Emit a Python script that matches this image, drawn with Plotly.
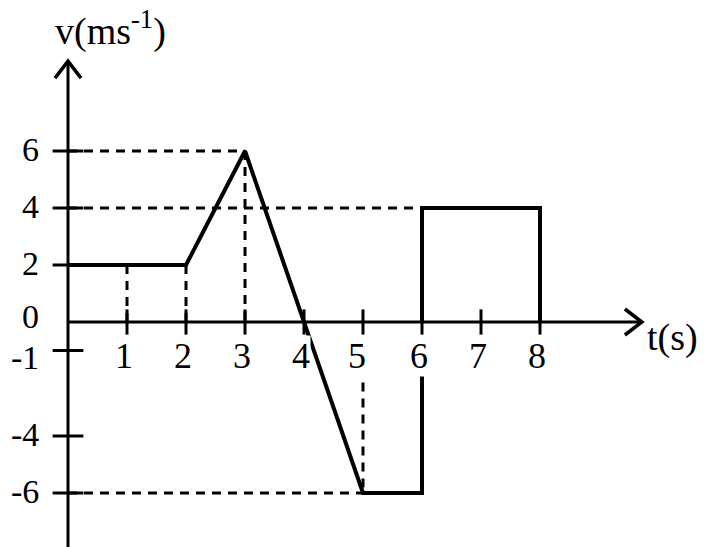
import plotly.graph_objects as go

# ---- data ----
seg1_t = [0, 2, 3, 5, 6, 6]          # first part of the v-t graph
seg1_v = [2, 2, 6, -6, -6, -1]
seg2_t = [6, 6, 8, 8]                # second part
seg2_v = [0, 4, 4, 0]

x_ticks = [1, 2, 3, 4, 5, 6, 7, 8]
x_tick_labels = ["1", "2", "3", "4", "5", "6", "7", "8"]
y_ticks = [6, 4, 2, 0, -1, -4, -6]
y_tick_labels = ["6", "4", "2", "0", "-1", "-4", "-6"]
y_tick_marks = [6, 4, 2, -1, -4, -6]

# dashed guide lines
guide_h_v = [6, 4, -6]
guide_h_from = [0, 0, 0]
guide_h_to = [3, 6, 5]
guide_v_t = [1, 2, 3, 5]
guide_v_from = [2, 2, 6, -1]
guide_v_to = [0, 0, 0, -6]

x_axis_end = 9.71
y_axis_top = 9.12
y_axis_bottom = -8.5

FONT = "Liberation Serif, Times New Roman, serif"

fig = go.Figure()

# axes lines
fig.add_trace(go.Scatter(x=[0, x_axis_end, None, 0, 0],
                         y=[0, 0, None, y_axis_bottom, y_axis_top],
                         mode="lines", line=dict(color="black", width=3),
                         hoverinfo="skip", showlegend=False))

# dashed guides
gx, gy = [], []
for v, a, b in zip(guide_h_v, guide_h_from, guide_h_to):
    gx += [a, b, None]
    gy += [v, v, None]
for t, a, b in zip(guide_v_t, guide_v_from, guide_v_to):
    gx += [t, t, None]
    gy += [a, b, None]
fig.add_trace(go.Scatter(x=gx, y=gy, mode="lines",
                         line=dict(color="black", width=3, dash="9px,7px"),
                         hoverinfo="skip", showlegend=False))

# main graph
fig.add_trace(go.Scatter(x=seg1_t + [None] + seg2_t,
                         y=seg1_v + [None] + seg2_v,
                         mode="lines", line=dict(color="black", width=4),
                         hoverinfo="skip", showlegend=False))

# tick marks crossing the axes
fig.add_trace(go.Scatter(x=x_ticks, y=[0] * len(x_ticks), mode="markers",
                         marker=dict(symbol="line-ns", size=18,
                                     line=dict(color="black", width=3)),
                         hoverinfo="skip", showlegend=False))
fig.add_trace(go.Scatter(x=[0] * len(y_tick_marks), y=y_tick_marks, mode="markers",
                         marker=dict(symbol="line-ew", size=22,
                                     line=dict(color="black", width=3)),
                         hoverinfo="skip", showlegend=False))

# arrow heads (chevrons) at the axis ends
shapes = [
    dict(type="path", xref="x", yref="y", xsizemode="pixel", ysizemode="pixel",
         xanchor=x_axis_end, yanchor=0, path="M -16,13 L 1,0 L -16,-13",
         line=dict(color="black", width=3.5)),
    dict(type="path", xref="x", yref="y", xsizemode="pixel", ysizemode="pixel",
         xanchor=0, yanchor=y_axis_top, path="M -13,-16 L 0,1 L 13,-16",
         line=dict(color="black", width=3.5)),
]

annotations = []
# x tick labels
for t, lab in zip(x_ticks, x_tick_labels):
    annotations.append(dict(x=t, y=0, xref="x", yref="y", text=lab, showarrow=False,
                            xanchor="center", yanchor="middle", yshift=-34,
                            xshift=-6 if lab == "5" else -3,
                            bgcolor="white", borderpad=0,
                            font=dict(family=FONT, size=36, color="black")))
# y tick labels
y_label_shift = {"0": 6, "-1": -7}
for v, lab in zip(y_ticks, y_tick_labels):
    annotations.append(dict(x=0, y=v, xref="x", yref="y", text=lab, showarrow=False,
                            xanchor="right", yanchor="middle", xshift=-27,
                            yshift=y_label_shift.get(lab, 2),
                            font=dict(family=FONT, size=34, color="black")))

# axis titles
annotations.append(dict(x=53 / 706, y=1 - 29 / 547, xref="paper", yref="paper",
                        text="v(ms<sup>-1</sup>)", showarrow=False,
                        xanchor="left", yanchor="middle",
                        font=dict(family=FONT, size=38, color="black")))
annotations.append(dict(x=645 / 706, y=1 - 337 / 547, xref="paper", yref="paper",
                        text="t(s)", showarrow=False,
                        xanchor="left", yanchor="middle",
                        font=dict(family=FONT, size=38, color="black")))

fig.update_layout(
    width=706, height=547,
    margin=dict(l=0, r=0, t=0, b=0),
    paper_bgcolor="white", plot_bgcolor="white",
    xaxis=dict(range=[-68 / 59, (706 - 68) / 59], visible=False, fixedrange=True),
    yaxis=dict(range=[-(547 - 322) / 28.5, 322 / 28.5], visible=False, fixedrange=True),
    shapes=shapes,
    annotations=annotations,
    showlegend=False,
)

fig.write_html("out.html", config={"displayModeBar": False},
               post_script="document.body.style.margin='0px';document.body.style.overflow='hidden';")
